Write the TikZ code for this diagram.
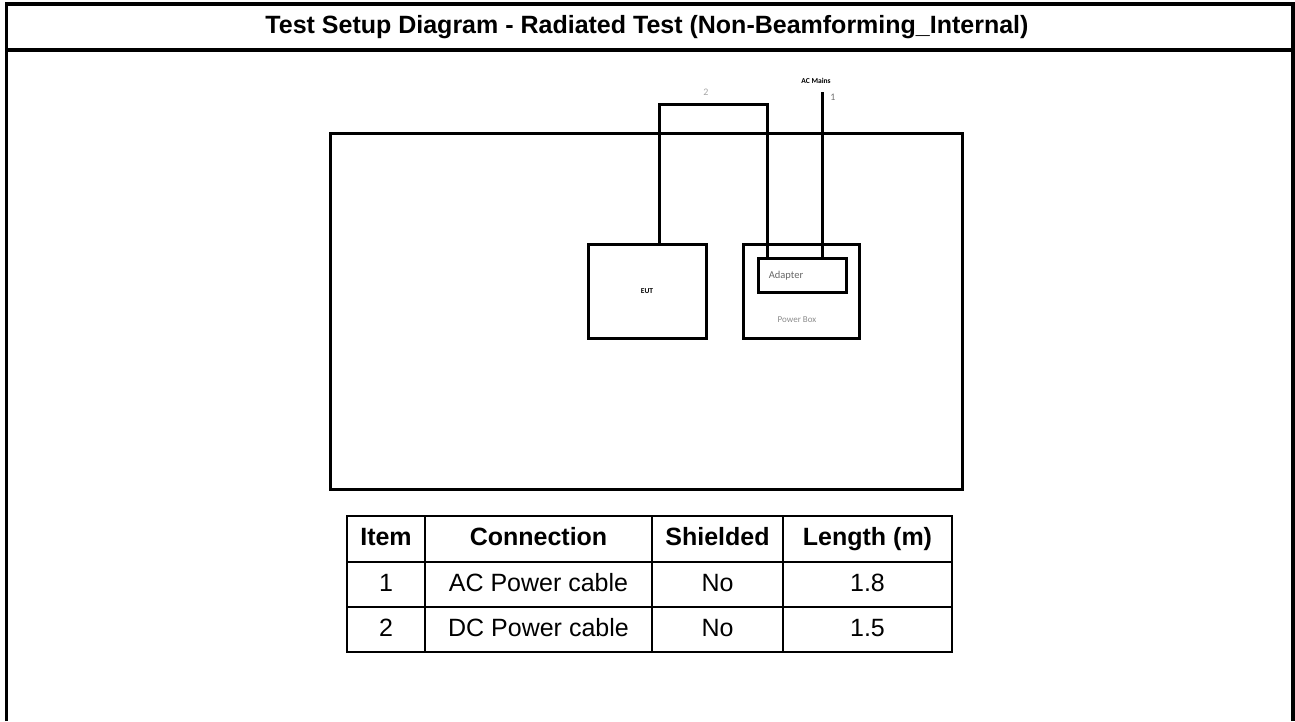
\documentclass[tikz,border=0pt]{standalone}
\usepackage{fontspec}
\setmainfont{Liberation Sans}
\newfontfamily\calfont{Carlito}
\begin{document}
\begin{tikzpicture}[x=1pt,y=-1pt,
  frameline/.style={line width=3.5pt},
  wire/.style={line width=3pt},
  boxnode/.style={draw, line width=3pt, inner sep=0pt},
  gridline/.style={line width=2.5pt},
  hdr/.style={font=\fontsize{25}{30}\selectfont\bfseries, text height=18pt, text depth=5pt, inner sep=0pt},
  cell/.style={font=\fontsize{25}{30}\selectfont, text height=18pt, text depth=5pt, inner sep=0pt}]
\useasboundingbox (0,0) rectangle (1295,721);
% outer frame
\coordinate (ftl) at (6.5,4);
\coordinate (ftr) at (1293,4);
\coordinate (fbl) at (6.5,721);
\coordinate (fbr) at (1293,721);
\draw[frameline] (fbl) -- (ftl) -- (ftr) -- (fbr);
\coordinate (sepl) at (6.5,50);
\coordinate (sepr) at (1293,50);
\draw[frameline] (sepl) -- (sepr);
\node[hdr] (title) at (647,27) {Test Setup Diagram - Radiated Test (Non-Beamforming\_Internal)};
% room
\node[boxnode, minimum width=632pt, minimum height=356pt] (room) at (646,311) {};
% EUT
\node[boxnode, minimum width=118pt, minimum height=94pt, font=\calfont\bfseries\fontsize{7.5}{9}\selectfont] (eut) at (647,291) {EUT};
% power box
\node[boxnode, minimum width=116pt, minimum height=94pt] (pbox) at (801,291) {};
\node[boxnode, minimum width=88pt, minimum height=34pt] (adapter) at (802,275) {};
\node[text=black!60, font=\calfont\fontsize{10.5}{12}\selectfont] (adlbl) at (786,276) {Adapter};
\node[text=black!45, font=\calfont\fontsize{9}{11}\selectfont] (pblbl) at (797,320) {Power Box};
% cables
\coordinate (c2a) at (659,104);
\coordinate (c2b) at (767,104);
\draw[wire] (eut.north -| c2a) |- (c2b) -- (adapter.north -| c2b);
\coordinate (acend) at (822,92);
\draw[wire] (acend) -- (adapter.north -| acend);
\node[text=black!35, font=\calfont\fontsize{10}{12}\selectfont] (l2) at (706,92) {2};
\node[text=black!55, font=\calfont\fontsize{10}{12}\selectfont] (l1) at (833,97) {1};
\node[font=\calfont\bfseries\fontsize{7.5}{9}\selectfont] (acm) at (816,81) {AC Mains};
% table
\draw[gridline] (347,516) rectangle (952,652);
\draw[gridline] (347,562) -- (952,562);
\draw[gridline] (347,607) -- (952,607);
\draw[gridline] (425,516) -- (425,652);
\draw[gridline] (652,516) -- (652,652);
\draw[gridline] (783,516) -- (783,652);
\node[hdr] (h1) at (386,539) {Item};
\node[hdr] (h2) at (538.5,539) {Connection};
\node[hdr] (h3) at (717.5,539) {Shielded};
\node[hdr] (h4) at (867.5,539) {Length (m)};
\node[cell] (a1) at (386,584.5) {1};
\node[cell] (a2) at (538.5,584.5) {AC Power cable};
\node[cell] (a3) at (717.5,584.5) {No};
\node[cell] (a4) at (867.5,584.5) {1.8};
\node[cell] (b1) at (386,629.5) {2};
\node[cell] (b2) at (538.5,629.5) {DC Power cable};
\node[cell] (b3) at (717.5,629.5) {No};
\node[cell] (b4) at (867.5,629.5) {1.5};
\end{tikzpicture}
\end{document}
